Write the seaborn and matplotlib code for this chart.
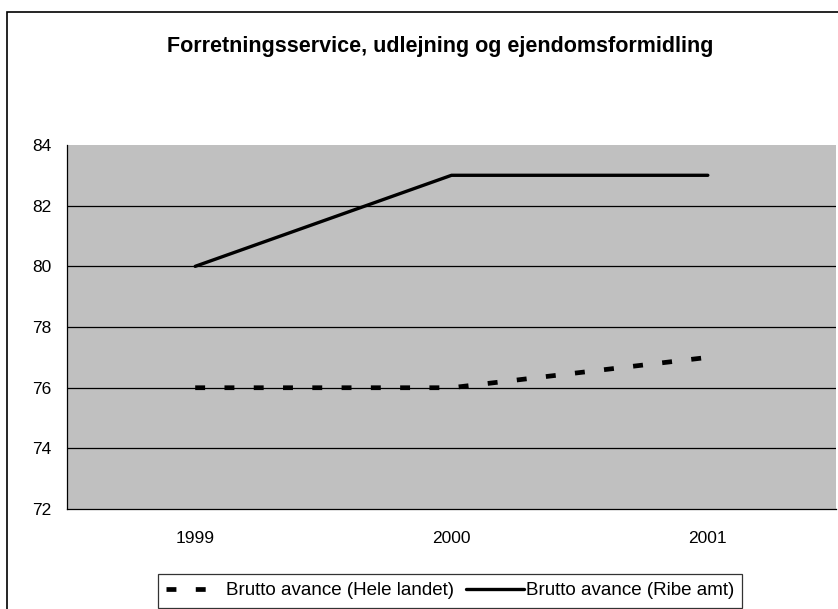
import numpy as np
import pandas as pd
import matplotlib
matplotlib.use("Agg")
import matplotlib.pyplot as plt
import matplotlib.patches as mpatches
import seaborn as sns

years = ["1999", "2000", "2001"]
hele_landet = [76, 76, 77]
ribe_amt = [80, 83, 83]
series_names = ["Brutto avance (Hele landet)", "Brutto avance (Ribe amt)"]

df = pd.DataFrame({
    "pos": list(range(len(years))) * 2,
    "value": hele_landet + ribe_amt,
    "serie": [series_names[0]] * len(years) + [series_names[1]] * len(years),
})

sns.set_style("white")
plt.rcParams["font.family"] = ["Liberation Sans", "DejaVu Sans"]
plt.rcParams["text.color"] = "black"
plt.rcParams["xtick.color"] = "black"
plt.rcParams["ytick.color"] = "black"

fig = plt.figure(figsize=(8.38, 6.09), dpi=100)
ax = fig.add_axes([0.080, 0.164, 0.9176, 0.598])
ax.set_facecolor("#C0C0C0")

for y in [74, 76, 78, 80, 82]:
    ax.axhline(y, color="black", lw=0.9, zorder=1)

sub = df[df["serie"] == series_names[0]]
sns.lineplot(data=sub, x="pos", y="value", ax=ax, color="black", lw=3.4,
             label=series_names[0], zorder=3)
ax.lines[-1].set_dashes([2.1, 4.1])
sub = df[df["serie"] == series_names[1]]
sns.lineplot(data=sub, x="pos", y="value", ax=ax, color="black", lw=2.4,
             label=series_names[1], zorder=3)

ax.set_ylim(72, 84)
ax.set_yticks(np.arange(72, 85, 2))
ax.set_xlim(-0.5, len(years) - 0.5)
ax.set_xticks(np.arange(-0.5, len(years), 1.0))
ax.set_xticklabels([])
ax.set_xticks(range(len(years)), minor=True)
ax.set_xticklabels(years, minor=True)
ax.tick_params(axis="x", which="major", direction="out", length=6, width=0.9)
ax.tick_params(axis="x", which="minor", length=0, pad=16, labelsize=12.5)
ax.tick_params(axis="y", direction="out", length=6, width=0.9, labelsize=12.5, pad=5)
ax.set_xlabel("")
ax.set_ylabel("")
for s in ["top", "right"]:
    ax.spines[s].set_visible(False)
for s in ["left", "bottom"]:
    ax.spines[s].set_color("black")
    ax.spines[s].set_linewidth(0.9)

fig.text(0.525, 0.923, "Forretningsservice, udlejning og ejendomsformidling",
         ha="center", va="center", fontsize=15.5, fontweight="bold")

ax.get_legend().remove()
handles, labels = ax.get_legend_handles_labels()
leg = fig.legend(handles, labels, loc="upper center", bbox_to_anchor=(0.537, 0.058),
                 ncol=2, frameon=True, fancybox=False, fontsize=13.5,
                 handlelength=3.1, handletextpad=0.1, columnspacing=0.6,
                 borderpad=0.45, borderaxespad=0)
leg.get_frame().set_edgecolor("black")
leg.get_frame().set_linewidth(0.9)

border = mpatches.Rectangle((0.0084, -0.05), 1.2, 1.03, transform=fig.transFigure,
                            fill=False, edgecolor="black", lw=1.2, clip_on=False)
fig.patches.append(border)

fig.savefig("out.png", dpi=100, facecolor="white")
